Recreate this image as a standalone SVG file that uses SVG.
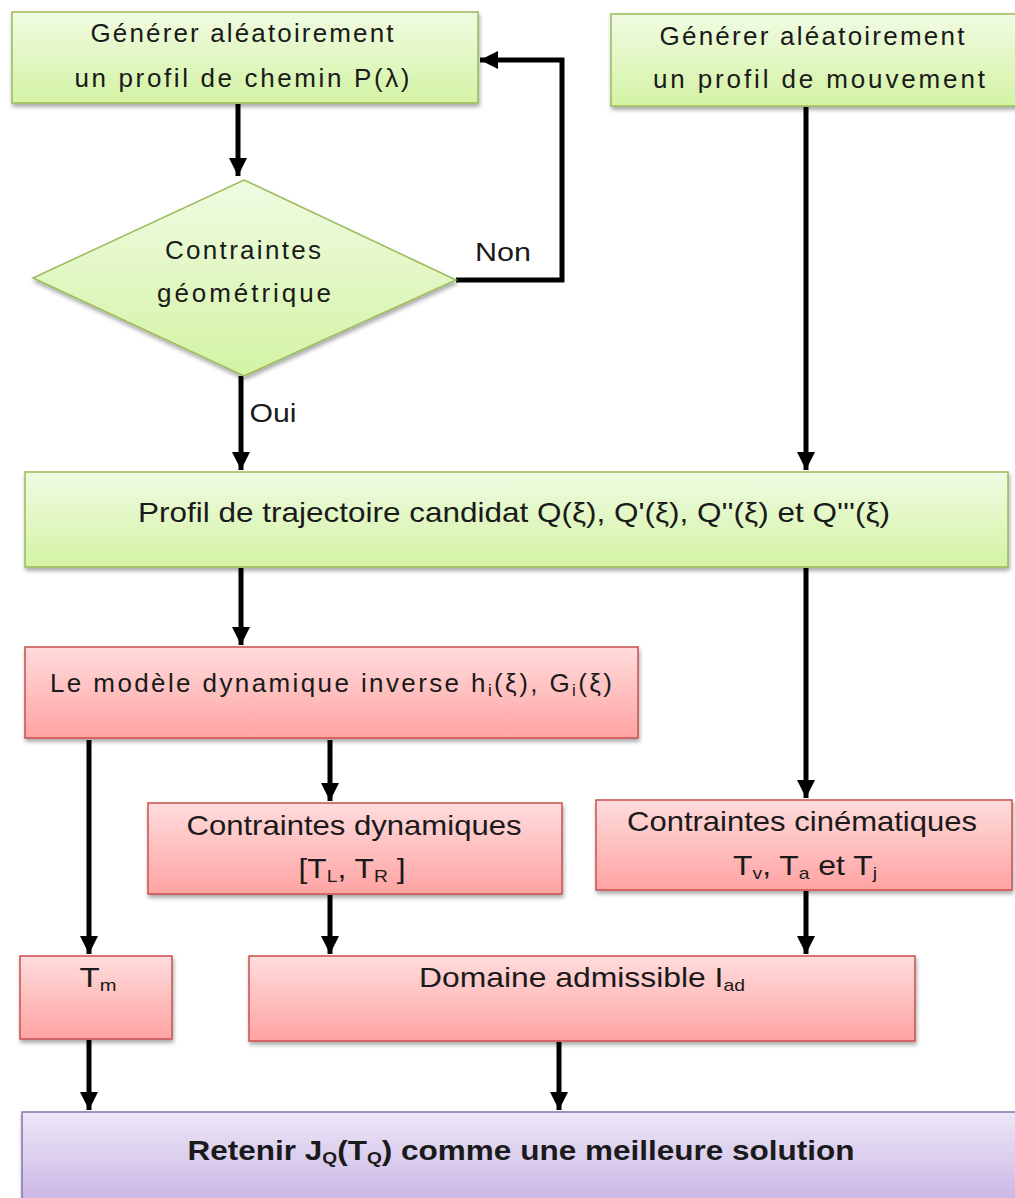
<svg xmlns="http://www.w3.org/2000/svg" width="1015" height="1198" viewBox="0 0 1015 1198">
<style>
text{font-family:"Liberation Sans",Arial,sans-serif;font-size:26px;fill:#1a1a1a;text-anchor:middle}
.k{font-size:28px}
.g{stroke:#9bbb59;stroke-width:1.5}
.r{stroke:#c9504d;stroke-width:1.5}
.p{stroke:#8c72b0;stroke-width:1.5}
.c{stroke:#000;stroke-width:5;fill:none}
.sub{font-size:17px}
</style>
<defs>
<linearGradient id="gg" x1="0" y1="0" x2="0" y2="1"><stop offset="0" stop-color="#f0fbe2"/><stop offset="1" stop-color="#d3f3a4"/></linearGradient>
<linearGradient id="rg" x1="0" y1="0" x2="0" y2="1"><stop offset="0" stop-color="#ffdcdc"/><stop offset="1" stop-color="#ffa3a3"/></linearGradient>
<linearGradient id="pg" x1="0" y1="0" x2="0" y2="1"><stop offset="0" stop-color="#ede7f7"/><stop offset="1" stop-color="#c9b5e5"/></linearGradient>
<filter id="sh" x="-5%" y="-5%" width="110%" height="120%"><feDropShadow dx="1" dy="3" stdDeviation="2" flood-color="#000" flood-opacity="0.35"/></filter>
<marker id="ah" viewBox="0 0 10 10" refX="10" refY="5" markerWidth="3.6" markerHeight="3.6" orient="auto" markerUnits="strokeWidth"><path d="M0,0 L10,5 L0,10 z" fill="#000"/></marker>
</defs>

<g id="connectors">
<path class="c" d="M238,104 V176" marker-end="url(#ah)"/>
<path class="c" d="M456,280 H562 V60 H480" marker-end="url(#ah)"/>
<path class="c" d="M241,376 V470" marker-end="url(#ah)"/>
<path class="c" d="M806,107 V470" marker-end="url(#ah)"/>
<path class="c" d="M241,568 V645" marker-end="url(#ah)"/>
<path class="c" d="M806,568 V798" marker-end="url(#ah)"/>
<path class="c" d="M330,740 V801" marker-end="url(#ah)"/>
<path class="c" d="M89,740 V954" marker-end="url(#ah)"/>
<path class="c" d="M330,895 V954" marker-end="url(#ah)"/>
<path class="c" d="M806,891 V954" marker-end="url(#ah)"/>
<path class="c" d="M89,1040 V1110" marker-end="url(#ah)"/>
<path class="c" d="M559,1042 V1110" marker-end="url(#ah)"/>
</g>

<g id="n1">
<rect x="12" y="12" width="466" height="91" fill="url(#gg)" class="g" filter="url(#sh)"/>
<text x="242" y="42" textLength="303" lengthAdjust="spacing">Générer aléatoirement</text>
<text x="242" y="87" textLength="335" lengthAdjust="spacing">un profil de chemin P(λ)</text>
</g>

<g id="n2">
<rect x="611" y="14" width="410" height="92" fill="url(#gg)" class="g" filter="url(#sh)"/>
<text x="812" y="45" textLength="305" lengthAdjust="spacing">Générer aléatoirement</text>
<text x="819" y="88" textLength="332" lengthAdjust="spacing">un profil de mouvement</text>
</g>

<g id="n3">
<polygon points="244,180 456,280 244,376 33,278" fill="url(#gg)" class="g" filter="url(#sh)"/>
<text x="243" y="259" textLength="156" lengthAdjust="spacing">Contraintes</text>
<text x="244" y="302" textLength="174" lengthAdjust="spacing">géométrique</text>
</g>

<text x="503" y="261" textLength="56" lengthAdjust="spacingAndGlyphs">Non</text>
<text x="273" y="422" textLength="47" lengthAdjust="spacingAndGlyphs">Oui</text>

<g id="n4">
<rect x="25" y="472" width="983" height="95" fill="url(#gg)" class="g" filter="url(#sh)"/>
<text class="k" x="514" y="522" textLength="752" lengthAdjust="spacingAndGlyphs">Profil de trajectoire candidat Q(ξ), Q'(ξ), Q''(ξ) et Q'''(ξ)</text>
</g>

<g id="n5">
<rect x="25" y="647" width="613" height="91" fill="url(#rg)" class="r" filter="url(#sh)"/>
<text x="331" y="692" textLength="562" lengthAdjust="spacing">Le modèle dynamique inverse h<tspan class="sub" dy="4">i</tspan><tspan dy="-4">(ξ), G</tspan><tspan class="sub" dy="4">i</tspan><tspan dy="-4">(ξ)</tspan></text>
</g>

<g id="n6">
<rect x="148" y="803" width="414" height="91" fill="url(#rg)" class="r" filter="url(#sh)"/>
<text class="k" x="354" y="835" textLength="335" lengthAdjust="spacingAndGlyphs">Contraintes dynamiques</text>
<text class="k" x="352" y="878" textLength="107" lengthAdjust="spacingAndGlyphs">[T<tspan class="sub" dy="4">L</tspan><tspan dy="-4">, T</tspan><tspan class="sub" dy="4">R</tspan><tspan dy="-4"> ]</tspan></text>
</g>

<g id="n7">
<rect x="596" y="800" width="416" height="90" fill="url(#rg)" class="r" filter="url(#sh)"/>
<text class="k" x="802" y="831" textLength="350" lengthAdjust="spacingAndGlyphs">Contraintes cinématiques</text>
<text class="k" x="805" y="875" textLength="144" lengthAdjust="spacingAndGlyphs">T<tspan class="sub" dy="4">v</tspan><tspan dy="-4">, T</tspan><tspan class="sub" dy="4">a</tspan><tspan dy="-4"> et T</tspan><tspan class="sub" dy="4">j</tspan></text>
</g>

<g id="n8">
<rect x="20" y="956" width="152" height="83" fill="url(#rg)" class="r" filter="url(#sh)"/>
<text class="k" x="98" y="987" textLength="37" lengthAdjust="spacingAndGlyphs">T<tspan class="sub" dy="4">m</tspan></text>
</g>

<g id="n9">
<rect x="249" y="956" width="666" height="85" fill="url(#rg)" class="r" filter="url(#sh)"/>
<text class="k" x="582" y="987" textLength="326" lengthAdjust="spacingAndGlyphs">Domaine admissible I<tspan class="sub" dy="4">ad</tspan></text>
</g>

<g id="n10">
<rect x="22" y="1112" width="1000" height="92" fill="url(#pg)" class="p" filter="url(#sh)"/>
<text class="k" x="521" y="1160" font-weight="bold" textLength="667" lengthAdjust="spacingAndGlyphs">Retenir  J<tspan class="sub" dy="4">Q</tspan><tspan dy="-4">(T</tspan><tspan class="sub" dy="4">Q</tspan><tspan dy="-4">) comme une meilleure solution</tspan></text>
</g>
</svg>
